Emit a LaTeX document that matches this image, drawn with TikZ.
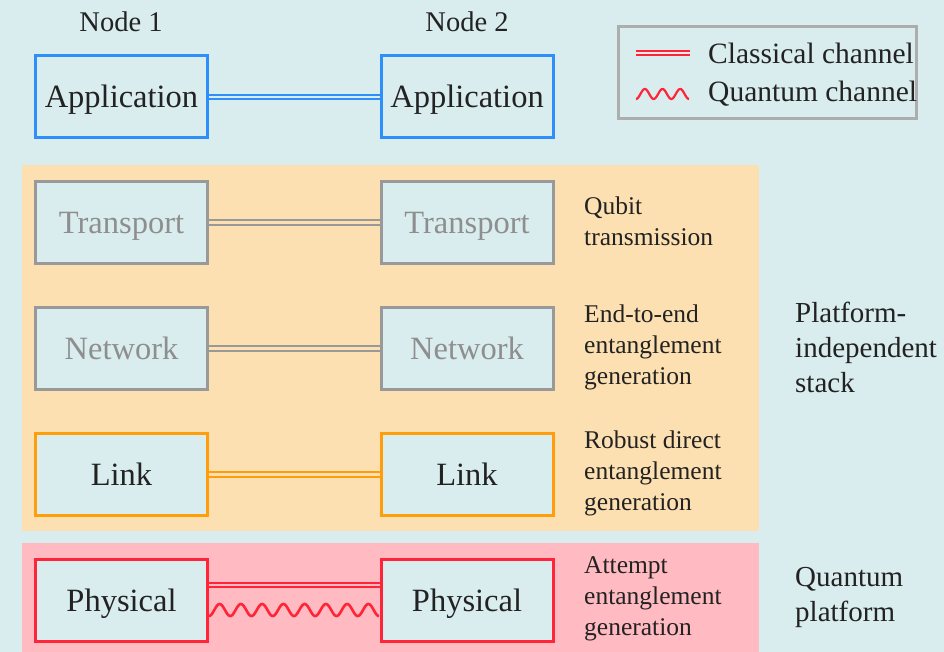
\documentclass[tikz,border=0pt]{standalone}
\usepackage{fontspec}
\setmainfont{Liberation Serif}[Ligatures=TeX]
\newfontfamily\tms{Liberation Serif}
\definecolor{bgc}{HTML}{D9ECEE}
\definecolor{orreg}{HTML}{FDE0B1}
\definecolor{pkreg}{HTML}{FFBAC2}
\definecolor{cblue}{HTML}{2F8FFA}
\definecolor{cgray}{HTML}{999999}
\definecolor{corange}{HTML}{FF9D0A}
\definecolor{cred}{HTML}{FF2438}
\definecolor{ctext}{HTML}{222222}
\definecolor{cgtext}{HTML}{8E8E8E}
\tikzset{
  layerbox/.style={draw, line width=3pt, fill=bgc, minimum width=172pt, minimum height=82pt, inner sep=0pt,
    font=\tms\fontsize{32.5}{38}\selectfont, text=ctext, text height=23pt, text depth=1pt},
  chan/.style={line width=2pt, double distance=2.6pt},
  desc/.style={anchor=west, align=left, inner sep=0pt, font=\tms\fontsize{25.5}{31}\selectfont, text=ctext},
  side/.style={anchor=west, align=left, inner sep=0pt, font=\tms\fontsize{29}{35}\selectfont, text=ctext},
  hdr/.style={inner sep=0pt, font=\tms\fontsize{28.5}{34}\selectfont, text=ctext},
  legtxt/.style={anchor=west, inner sep=0pt, font=\tms\fontsize{29.5}{35}\selectfont, text=ctext}
}
\begin{document}
\begin{tikzpicture}[x=1pt, y=-1pt]
\fill[bgc] (0,0) rectangle (944,652);
\useasboundingbox (0,0) rectangle (944,652);
% regions
\fill[orreg] (22,165) rectangle (759,531);
\fill[pkreg] (22,543) rectangle (759,652);
% headers
\node[hdr] (h1) at (121,22) {Node 1};
\node[hdr] (h2) at (467,22) {Node 2};
% boxes
\node[layerbox, draw=cblue] (A1) at (121.5,97) {Application};
\node[layerbox, draw=cblue] (A2) at (467,97) {Application};
\node[layerbox, draw=cgray, text=cgtext] (T1) at (121.5,222.5) {Transport};
\node[layerbox, draw=cgray, text=cgtext] (T2) at (467,222.5) {Transport};
\node[layerbox, draw=cgray, text=cgtext] (N1) at (121.5,348.5) {Network};
\node[layerbox, draw=cgray, text=cgtext] (N2) at (467,348.5) {Network};
\node[layerbox, draw=corange] (L1) at (121.5,474.5) {Link};
\node[layerbox, draw=corange] (L2) at (467,474.5) {Link};
\node[layerbox, draw=cred] (P1) at (121.5,600) {Physical};
\node[layerbox, draw=cred] (P2) at (467,600) {Physical};
% connectors
\draw[chan, draw=cblue, double=bgc] (A1.east) -- (A2.west);
\draw[chan, draw=cgray, double=orreg] (T1.east) -- (T2.west);
\draw[chan, draw=cgray, double=orreg] (N1.east) -- (N2.west);
\draw[chan, draw=corange, double=orreg] (L1.east) -- (L2.west);
\draw[chan, draw=cred, double=pkreg] ([yshift=15pt]P1.east) -- ([yshift=15pt]P2.west);
\coordinate (w1) at ([yshift=-10pt]P1.east);
\coordinate (w2) at ([yshift=-10pt]P2.west);
\begin{scope}[shift={(w1)}]
\draw[cred, line width=2.6pt, line join=round] plot[domain=0:170, samples=200, smooth] (\x, {6*cos((\x/21.25)*360)});
\end{scope}
% descriptions
\node[desc] (d1) at (584,221) {Qubit\\transmission};
\node[desc] (d2) at (584,347) {End-to-end\\entanglement\\generation};
\node[desc] (d3) at (584,473) {Robust direct\\entanglement\\generation};
\node[desc] (d4) at (584,599) {Attempt\\entanglement\\generation};
\node[side] (s1) at (795,347) {Platform-\\independent\\stack};
\node[side] (s2) at (795,597) {Quantum\\platform};
% legend
\node[draw=cgray!80, line width=2.5pt, fill=bgc, minimum width=298pt, minimum height=92pt, inner sep=0pt] (leg) at (767.5,72.5) {};
\coordinate (lc1) at (636,53);
\coordinate (lc2) at (690,53);
\draw[chan, draw=cred, double=bgc] (lc1) -- (lc2);
\node[legtxt] (lt1) at (708,53) {Classical channel};
\coordinate (lq) at (636,94);
\begin{scope}[shift={(lq)}]
\draw[cred, line width=2.2pt, line join=round] plot[domain=0:53, samples=80, smooth] (\x, {5*cos((\x/17.67)*360)});
\end{scope}
\node[legtxt] (lt2) at (708,94) {Quantum channel};
\end{tikzpicture}
\end{document}
